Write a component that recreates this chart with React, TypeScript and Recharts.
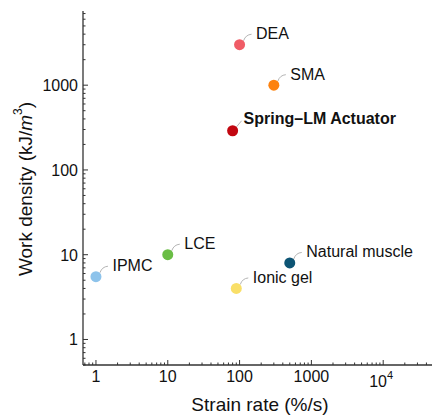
import { Scatter, ScatterChart, XAxis, YAxis } from "recharts";

const materials = [
  "DEA",
  "SMA",
  "Spring–LM Actuator",
  "LCE",
  "IPMC",
  "Natural muscle",
  "Ionic gel",
];
const strainRate = [100, 300, 80, 10, 1, 500, 90];
const workDensity = [3000, 1000, 290, 10, 5.5, 8, 4];
const colors = [
  "#f05c66",
  "#fd820f",
  "#c20710",
  "#6abd45",
  "#8dc3eb",
  "#0d5474",
  "#f9df68",
];
const highlighted = "Spring–LM Actuator";

const xMajorTicks = [1, 10, 100, 1000, 10000];
const xTickLabels = ["1", "10", "100", "1000", "10^4"];
const yMajorTicks = [1, 10, 100, 1000];
const yTickLabels = ["1", "10", "100", "1000"];

const xDomain: [number, number] = [0.66, 100000];
const yDomain: [number, number] = [0.5, 7500];

// log minor ticks (2..9 of each decade) inside a domain
function logTicks([lo, hi]: [number, number]) {
  const out: number[] = [];
  for (let e = Math.floor(Math.log10(lo)); e <= Math.ceil(Math.log10(hi)); e++) {
    for (let m = 1; m <= 9; m++) {
      const v = Number((m * Math.pow(10, e)).toPrecision(3));
      if (v >= lo && v <= hi) out.push(v);
    }
  }
  return out;
}

const xTicks = logTicks(xDomain);
const yTicks = logTicks(yDomain);

const points = materials.map((name, i) => ({
  name,
  x: strainRate[i],
  y: workDensity[i],
  color: colors[i],
}));

const FONT = "'Liberation Sans', Arial, Helvetica, sans-serif";
const FRAME = "#333";
const MAJOR = 5;
const MINOR = 2.5;

function tickLen(v: number, majors: number[]) {
  return majors.includes(v) ? MAJOR : MINOR;
}

function BottomTick(props: any) {
  const { x, y, payload } = props;
  const v = payload.value;
  const idx = xMajorTicks.indexOf(v);
  const label = idx >= 0 ? xTickLabels[idx] : null;
  return (
    <g>
      <line x1={x} x2={x} y1={y} y2={y - tickLen(v, xMajorTicks)} stroke={FRAME} strokeWidth={1} />
      {label && !label.includes("^") && (
        <text x={x} y={y + 17} textAnchor="middle" fontSize={16} fontFamily={FONT} fill="#111">
          {label}
        </text>
      )}
      {label && label.includes("^") && (
        <text x={x - 2} y={y + 22} textAnchor="middle" fontSize={16} fontFamily={FONT} fill="#111">
          {label.split("^")[0]}
          <tspan dy={-8} fontSize={11}>
            {label.split("^")[1]}
          </tspan>
        </text>
      )}
    </g>
  );
}

function TopTick(props: any) {
  const { x, y, payload } = props;
  return (
    <line x1={x} x2={x} y1={y} y2={y + tickLen(payload.value, xMajorTicks)} stroke={FRAME} strokeWidth={1} />
  );
}

function LeftTick(props: any) {
  const { x, y, payload } = props;
  const v = payload.value;
  const idx = yMajorTicks.indexOf(v);
  return (
    <g>
      <line x1={x} x2={x + tickLen(v, yMajorTicks)} y1={y} y2={y} stroke={FRAME} strokeWidth={1} />
      {idx >= 0 && (
        <text x={x - 5} y={y + 6} textAnchor="end" fontSize={16} fontFamily={FONT} fill="#111">
          {yTickLabels[idx]}
        </text>
      )}
    </g>
  );
}

function RightTick(props: any) {
  const { x, y, payload } = props;
  return (
    <line x1={x} x2={x - tickLen(payload.value, yMajorTicks)} y1={y} y2={y} stroke={FRAME} strokeWidth={1} />
  );
}

function PointShape(props: any) {
  const { cx, cy, payload } = props;
  const bold = payload.name === highlighted;
  const leader = bold
    ? `M${cx + 4},${cy - 4} L${cx + 9},${cy - 10}`
    : `M${cx + 4},${cy - 4} Q${cx + 6},${cy - 10} ${cx + 12},${cy - 10.5}`;
  return (
    <g>
      <path d={leader} fill="none" stroke="#b5b5b5" strokeWidth={1} />
      <circle cx={cx} cy={cy} r={5.5} fill={payload.color} />
      <text
        x={cx + (bold ? 11 : 16.5)}
        y={cy - (bold ? 7 : 5.5)}
        fontSize={16}
        fontWeight={bold ? "bold" : "normal"}
        fontFamily={FONT}
        fill="#111"
      >
        {payload.name}
      </text>
    </g>
  );
}

export default function App() {
  return (
    <div
      style={{
        position: "fixed",
        left: 0,
        top: 0,
        width: 432,
        height: 417,
        overflow: "hidden",
        background: "#fff",
      }}
    >
      <ScatterChart width={460} height={417} margin={{ top: 11, right: 5, bottom: 0, left: 0 }}>
        <XAxis
          xAxisId={0}
          dataKey="x"
          type="number"
          scale="log"
          domain={xDomain}
          allowDataOverflow
          ticks={xTicks}
          interval={0}
          tickSize={0}
          tickMargin={0}
          tickLine={false}
          tick={<BottomTick />}
          height={52}
          axisLine={{ stroke: FRAME, strokeWidth: 1.3 }}
          label={{
            content: () => (
              <text x={260} y={411} textAnchor="middle" fontSize={19} fontFamily={FONT} fill="#111">
                Strain rate (%/s)
              </text>
            ),
          }}
        />
        <XAxis
          xAxisId="top"
          orientation="top"
          dataKey="x"
          type="number"
          scale="log"
          domain={xDomain}
          allowDataOverflow
          ticks={xTicks}
          interval={0}
          tickSize={0}
          tickMargin={0}
          tickLine={false}
          tick={<TopTick />}
          height={0}
          axisLine={{ stroke: FRAME, strokeWidth: 1.3 }}
        />
        <YAxis
          yAxisId={0}
          dataKey="y"
          type="number"
          scale="log"
          domain={yDomain}
          allowDataOverflow
          ticks={yTicks}
          interval={0}
          tickSize={0}
          tickMargin={0}
          tickLine={false}
          tick={<LeftTick />}
          width={83}
          axisLine={{ stroke: FRAME, strokeWidth: 1.3 }}
          label={{
            content: () => (
              <text
                x={25}
                y={189}
                transform="rotate(-90 25 189)"
                textAnchor="middle"
                dominantBaseline="central"
                fontSize={19}
                fontFamily={FONT}
                fill="#111"
              >
                Work density (kJ/<tspan fontStyle="italic">m</tspan>
                <tspan dy={-7} fontSize={12}>3</tspan>
                <tspan dy={7}>)</tspan>
              </text>
            ),
          }}
        />
        <YAxis
          yAxisId="right"
          orientation="right"
          dataKey="y"
          type="number"
          scale="log"
          domain={yDomain}
          allowDataOverflow
          ticks={yTicks}
          interval={0}
          tickSize={0}
          tickMargin={0}
          tickLine={false}
          tick={<RightTick />}
          width={0}
          axisLine={{ stroke: FRAME, strokeWidth: 1.3 }}
        />
        <Scatter
          data={points}
          xAxisId={0}
          yAxisId={0}
          shape={<PointShape />}
          isAnimationActive={false}
        />
      </ScatterChart>
    </div>
  );
}
